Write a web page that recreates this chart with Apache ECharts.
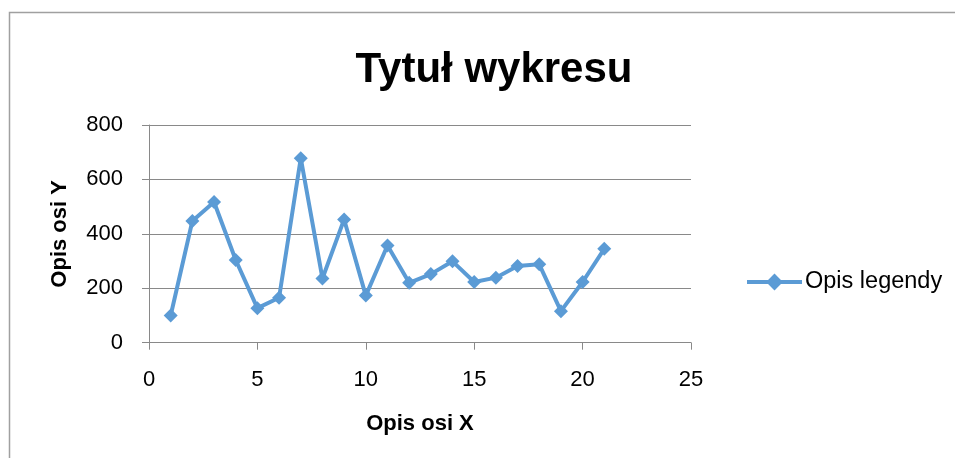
<!DOCTYPE html>
<html>
<head>
<meta charset="utf-8">
<script src="https://cdn.jsdelivr.net/npm/echarts@6/dist/echarts.min.js"></script>
<style>
html,body{margin:0;padding:0;background:#fff;}
#chart{width:955px;height:458px;}
</style>
</head>
<body>
<div id="chart"></div>
<script>
var titleText = 'Tytuł wykresu';
var xAxisName = 'Opis osi X';
var yAxisName = 'Opis osi Y';
var seriesName = 'Opis legendy';
var xValues = [1, 2, 3, 4, 5, 6, 7, 8, 9, 10, 11, 12, 13, 14, 15, 16, 17, 18, 19, 20, 21];
var yValues = [100, 447, 517, 304, 127, 165, 678, 236, 453, 173, 357, 220, 252, 299, 223, 239, 282, 288, 116, 223, 345];

var points = xValues.map(function (x, i) { return [x, yValues[i]]; });
var FONT = '"Liberation Sans", Arial, sans-serif';
var GRAY = '#898989';
var BLUE = '#5B9BD5';

var chart = echarts.init(document.getElementById('chart'), null, {renderer: 'canvas'});
chart.setOption({
  animation: false,
  backgroundColor: '#fff',
  graphic: [{
    type: 'rect',
    silent: true,
    shape: {x: 9.5, y: 12.5, width: 1000, height: 500},
    style: {fill: 'none', stroke: '#a0a0a0', lineWidth: 1.5}
  }],
  title: {
    text: titleText,
    left: 489,
    top: 44,
    textAlign: 'center',
    textStyle: {fontFamily: FONT, fontSize: 42, fontWeight: 'bold', color: '#000'}
  },
  legend: {
    left: 745,
    top: 270,
    padding: 0,
    itemWidth: 55,
    itemHeight: 21,
    itemGap: 4,
    lineStyle: {width: 4, color: BLUE},
    textStyle: {fontFamily: FONT, fontSize: 23.5, color: '#000', padding: [0, 0, 0, -2]},
    data: [seriesName]
  },
  grid: {left: 149, right: 264, top: 125, bottom: 115.3, containLabel: false},
  xAxis: {
    type: 'value',
    min: 0, max: 25, interval: 5,
    name: xAxisName,
    nameLocation: 'middle',
    nameGap: 70,
    nameTextStyle: {fontFamily: FONT, fontSize: 22, fontWeight: 'bold', color: '#000'},
    axisLine: {show: true, lineStyle: {color: GRAY, width: 1}},
    axisTick: {show: true, length: 7, lineStyle: {color: GRAY}},
    axisLabel: {margin: 26, fontFamily: FONT, fontSize: 22, color: '#000'},
    splitLine: {show: false}
  },
  yAxis: {
    type: 'value',
    min: 0, max: 800, interval: 200,
    name: yAxisName,
    nameLocation: 'middle',
    nameRotate: 90,
    nameGap: 78,
    nameTextStyle: {fontFamily: FONT, fontSize: 22, fontWeight: 'bold', color: '#000'},
    axisLine: {show: true, lineStyle: {color: GRAY, width: 1}},
    axisTick: {show: true, length: 7, lineStyle: {color: GRAY}},
    axisLabel: {margin: 26, fontFamily: FONT, fontSize: 22, color: '#000'},
    splitLine: {show: true, lineStyle: {color: GRAY, width: 1}}
  },
  series: [{
    name: seriesName,
    type: 'line',
    data: points,
    symbol: 'diamond',
    symbolSize: 14,
    lineStyle: {color: BLUE, width: 4},
    itemStyle: {color: BLUE}
  }]
});
</script>
</body>
</html>
